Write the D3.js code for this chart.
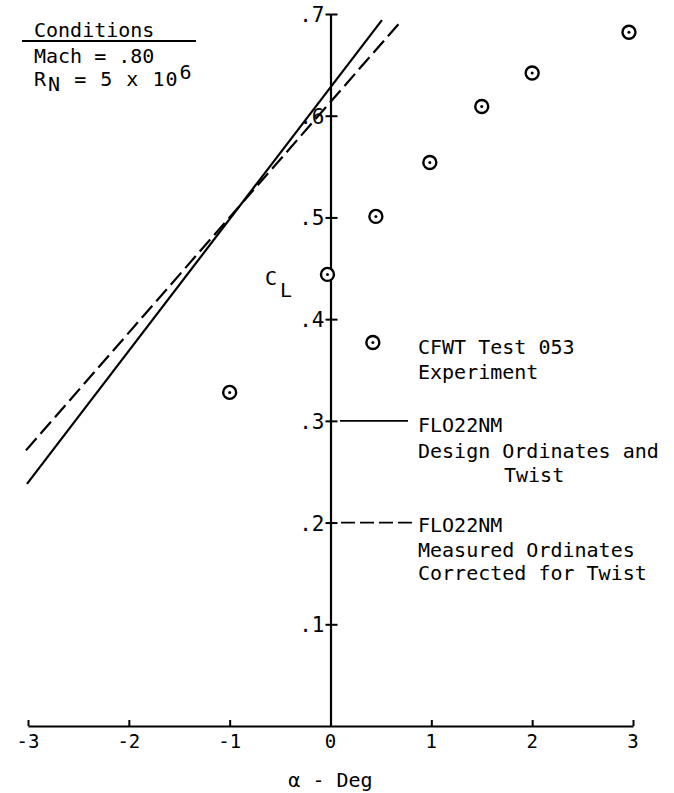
<!DOCTYPE html>
<html>
<head>
<meta charset="utf-8">
<script src="https://cdn.jsdelivr.net/npm/d3@7"></script>
<style>
  html, body { margin: 0; padding: 0; background: #fff; }
  svg { display: block; }
  text { font-family: "DejaVu Sans Mono", monospace; fill: #000; }
</style>
</head>
<body>
<svg id="chart" width="674" height="793"></svg>
<script>
// ---- data ----
const alphaExp = [-1.0, -0.03, 0.45, 0.985, 1.5, 2.0, 2.96];
const clExp    = [0.328, 0.444, 0.501, 0.554, 0.609, 0.642, 0.682];

const alphaDesign = [-3.01, 0.51];
const clDesign    = [0.238, 0.694];

const alphaMeasured = [-3.02, 0.70];
const clMeasured    = [0.271, 0.693];

const xTicks = [-3, -2, -1, 0, 1, 2, 3];
const xTickLabels = ["-3", "-2", "-1", "0", "1", "2", "3"];
const yTicks = [0.1, 0.2, 0.3, 0.4, 0.5, 0.6, 0.7];
const yTickLabels = [".1", ".2", ".3", ".4", ".5", ".6", ".7"];

// legend anchors in data units
const legendExp = [0.42, 0.377];

// ---- drawing ----
const svg = d3.select("#chart");
const x = d3.scaleLinear().domain([-3, 3]).range([28, 633]);
const y = d3.scaleLinear().domain([0, 0.7]).range([726, 14]);
const x0 = x(0);

// x axis
const xAxis = d3.axisTop(x).tickValues(xTicks).tickSize(6).tickSizeOuter(0).tickFormat("");
const gx = svg.append("g").attr("transform", `translate(0,${y(0)})`).call(xAxis);
gx.select(".domain").attr("stroke-width", 2.2);
gx.selectAll(".tick line").attr("stroke-width", 2);
gx.selectAll(".tick").filter(d => d === 0).select("line").remove();
svg.append("g").selectAll("text").data(xTicks).join("text")
  .attr("x", d => x(d)).attr("y", y(0) + 22)
  .attr("text-anchor", "middle").attr("font-size", 19)
  .text((d, i) => xTickLabels[i]);

// y axis
const yAxis = d3.axisRight(y).tickValues(yTicks).tickSize(7).tickSizeOuter(0).tickFormat("");
const gy = svg.append("g").attr("transform", `translate(${x0},0)`).call(yAxis);
gy.select(".domain").attr("stroke-width", 2.2);
gy.selectAll(".tick line").attr("x1", -5).attr("stroke-width", 2);
svg.append("g").selectAll("text").data(yTicks).join("text")
  .attr("x", x0 - 6).attr("y", d => y(d) + 8)
  .attr("text-anchor", "end").attr("font-size", 21)
  .text((d, i) => yTickLabels[i]);

// axis titles
svg.append("text").attr("x", x0).attr("y", 787).attr("text-anchor", "middle")
  .attr("font-size", 20).text("\u03b1 - Deg");
const cl = svg.append("text").attr("x", 265).attr("y", 285).attr("font-size", 20);
cl.append("tspan").text("C");
cl.append("tspan").attr("dx", 3).attr("dy", 12).text("L");

// lines
const line = d3.line().x(d => x(d[0])).y(d => y(d[1]));
svg.append("path").datum(alphaDesign.map((a, i) => [a, clDesign[i]]))
  .attr("d", line).attr("fill", "none").attr("stroke", "#000").attr("stroke-width", 2.2);
svg.append("path").datum(alphaMeasured.map((a, i) => [a, clMeasured[i]]))
  .attr("d", line).attr("fill", "none").attr("stroke", "#000").attr("stroke-width", 2.2)
  .attr("stroke-dasharray", "16,6");

// experimental points
function marker(g, cx, cy) {
  g.append("circle").attr("cx", cx).attr("cy", cy).attr("r", 6.5)
    .attr("fill", "#fff").attr("stroke", "#000").attr("stroke-width", 2.4);
  g.append("circle").attr("cx", cx).attr("cy", cy).attr("r", 1.5).attr("fill", "#000");
}
const gp = svg.append("g");
alphaExp.forEach((a, i) => marker(gp, x(a), y(clExp[i])));

// legend
const gl = svg.append("g").attr("font-size", 20);
marker(gl, x(legendExp[0]), y(legendExp[1]));
gl.append("text").attr("x", 418).attr("y", 354).text("CFWT Test 053");
gl.append("text").attr("x", 418).attr("y", 379).text("Experiment");

gl.append("line").attr("x1", 340).attr("x2", 408).attr("y1", y(0.3)).attr("y2", y(0.3))
  .attr("stroke", "#000").attr("stroke-width", 1.8);
gl.append("text").attr("x", 418).attr("y", 432).text("FLO22NM");
gl.append("text").attr("x", 418).attr("y", 458).text("Design Ordinates and");
gl.append("text").attr("x", 504).attr("y", 482).text("Twist");

gl.append("line").attr("x1", 341).attr("x2", 416).attr("y1", y(0.2)).attr("y2", y(0.2))
  .attr("stroke", "#000").attr("stroke-width", 1.8).attr("stroke-dasharray", "14,5");
gl.append("text").attr("x", 418).attr("y", 532).text("FLO22NM");
gl.append("text").attr("x", 418).attr("y", 557).text("Measured Ordinates");
gl.append("text").attr("x", 418).attr("y", 580).text("Corrected for Twist");

// conditions
const gc = svg.append("g").attr("font-size", 20);
gc.append("text").attr("x", 34).attr("y", 37).text("Conditions");
gc.append("line").attr("x1", 22).attr("x2", 196).attr("y1", 41).attr("y2", 41)
  .attr("stroke", "#000").attr("stroke-width", 1.8);
gc.append("text").attr("x", 34).attr("y", 63).text("Mach = .80");
const rn = gc.append("text").attr("x", 34).attr("y", 86).attr("letter-spacing", 1);
rn.append("tspan").text("R");
rn.append("tspan").attr("dy", 5).attr("dx", 1).text("N");
rn.append("tspan").attr("dy", -5).text(" = 5 x 10");
rn.append("tspan").attr("dy", -7).attr("dx", 1).text("6");
</script>
</body>
</html>
